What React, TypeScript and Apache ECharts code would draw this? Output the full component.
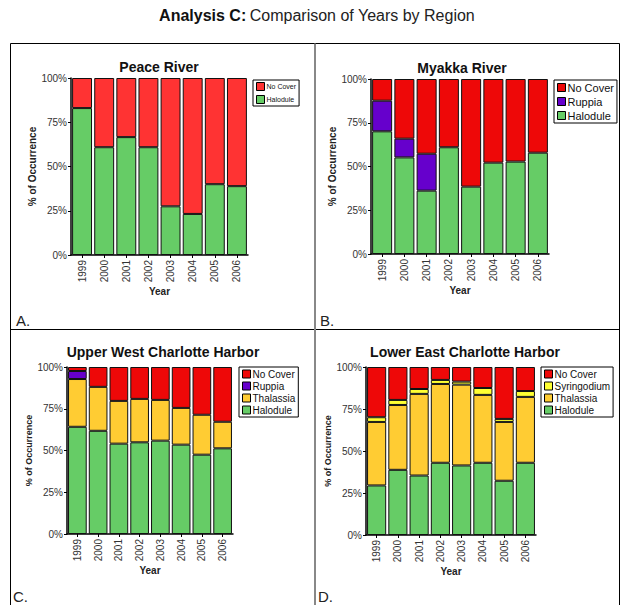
import React, { useEffect, useRef } from "react";
import * as echarts from "echarts";

const years = ["1999", "2000", "2001", "2002", "2003", "2004", "2005", "2006"];
const yTicks = [0, 25, 50, 75, 100];

// A. Peace River
const peaceHalodule = [83.0, 60.9, 66.6, 60.9, 27.5, 23.2, 40.0, 38.9];
const peaceNoCover = [17.0, 39.1, 33.4, 39.1, 72.5, 76.8, 60.0, 61.1];

// B. Myakka River
const myakkaHalodule = [70.1, 55.2, 36.2, 61.0, 38.5, 52.2, 52.8, 57.9];
const myakkaRuppia = [17.5, 10.7, 21.1, null, null, null, null, null];
const myakkaNoCover = [12.4, 34.1, 42.7, 39.0, 61.5, 47.8, 47.2, 42.1];

// C. Upper West Charlotte Harbor
const uwchHalodule = [64.2, 61.8, 54.1, 54.9, 55.9, 53.5, 47.5, 51.3];
const uwchThalassia = [28.6, 26.3, 25.6, 26.0, 24.4, 22.0, 23.9, 15.9];
const uwchRuppia = [4.8, null, null, null, null, null, null, null];
const uwchNoCover = [2.4, 11.9, 20.3, 19.1, 19.7, 24.5, 28.6, 32.8];

// D. Lower East Charlotte Harbor
const lechHalodule = [29.5, 38.8, 35.4, 43.0, 41.4, 43.0, 32.3, 43.0];
const lechThalassia = [37.8, 38.6, 48.6, 46.9, 48.1, 40.4, 35.0, 39.2];
const lechSyringodium = [2.8, 3.0, 2.9, 2.4, 1.8, 4.1, 1.8, 3.5];
const lechNoCover = [29.9, 19.6, 13.1, 7.7, 8.7, 12.5, 30.9, 14.3];

const C_GREEN = "#66CC66";
const C_RED_A = "#FF3333";
const C_RED = "#EE0808";
const C_PURPLE = "#6600CC";
const C_GOLD = "#FFCC33";
const C_YELLOW = "#FFFF33";

const FONT = "'Liberation Sans', Arial, sans-serif";

type Panel = {
  title: string;
  letter: string;
  grid: { left: number; top: number; width: number; height: number };
  titlePos: [number, number];
  letterPos: [number, number];
  legendPos: { left: number; top: number };
  legendFont: number;
  legendGap: number;
  axisNameSize: number;
  series: { name: string; data: (number | null)[]; color: string }[];
};

const panels: Panel[] = [
  {
    title: "Peace River",
    letter: "A.",
    grid: { left: 71, top: 78, width: 177, height: 177 },
    titlePos: [159, 67],
    letterPos: [16, 320],
    legendPos: { left: 253, top: 80 },
    legendFont: 7,
    legendGap: 4,
    axisNameSize: 10,
    series: [
      { name: "Halodule", data: peaceHalodule, color: C_GREEN },
      { name: "No Cover", data: peaceNoCover, color: C_RED_A },
    ],
  },
  {
    title: "Myakka River",
    letter: "B.",
    grid: { left: 371, top: 79, width: 178, height: 175 },
    titlePos: [462, 68],
    letterPos: [320, 320],
    legendPos: { left: 554, top: 80 },
    legendFont: 11,
    legendGap: 3,
    axisNameSize: 10,
    series: [
      { name: "Halodule", data: myakkaHalodule, color: C_GREEN },
      { name: "Ruppia", data: myakkaRuppia, color: C_PURPLE },
      { name: "No Cover", data: myakkaNoCover, color: C_RED },
    ],
  },
  {
    title: "Upper West Charlotte Harbor",
    letter: "C.",
    grid: { left: 67, top: 367, width: 166, height: 167 },
    titlePos: [163, 352],
    letterPos: [13, 596],
    legendPos: { left: 239, top: 367 },
    legendFont: 10,
    legendGap: 2,
    axisNameSize: 9,
    series: [
      { name: "Halodule", data: uwchHalodule, color: C_GREEN },
      { name: "Thalassia", data: uwchThalassia, color: C_GOLD },
      { name: "Ruppia", data: uwchRuppia, color: C_PURPLE },
      { name: "No Cover", data: uwchNoCover, color: C_RED },
    ],
  },
  {
    title: "Lower East Charlotte Harbor",
    letter: "D.",
    grid: { left: 366, top: 367, width: 170, height: 168 },
    titlePos: [465, 352],
    letterPos: [318, 596],
    legendPos: { left: 541, top: 367 },
    legendFont: 10,
    legendGap: 2,
    axisNameSize: 9,
    series: [
      { name: "Halodule", data: lechHalodule, color: C_GREEN },
      { name: "Thalassia", data: lechThalassia, color: C_GOLD },
      { name: "Syringodium", data: lechSyringodium, color: C_YELLOW },
      { name: "No Cover", data: lechNoCover, color: C_RED },
    ],
  },
];

function buildOption() {
  const grid: any[] = [];
  const xAxis: any[] = [];
  const yAxis: any[] = [];
  const series: any[] = [];
  const legend: any[] = [];
  const graphic: any[] = [];

  panels.forEach((p, i) => {
    grid.push({ ...p.grid, containLabel: false });
    xAxis.push({
      type: "category",
      gridIndex: i,
      data: years,
      name: "Year",
      nameLocation: "middle",
      nameGap: 30,
      nameTextStyle: { fontFamily: FONT, fontWeight: "bold", fontSize: 10, color: "#222" },
      axisLine: { show: true, lineStyle: { color: "#000", width: 1.5 } },
      axisTick: { show: true, alignWithLabel: true, length: 3, lineStyle: { color: "#000" } },
      axisLabel: { rotate: 90, fontSize: 10, fontFamily: FONT, color: "#333", margin: 5 },
      splitLine: { show: false },
    });
    yAxis.push({
      type: "value",
      gridIndex: i,
      min: 0,
      max: 100,
      interval: 25,
      name: "% of Occurrence",
      nameLocation: "middle",
      nameGap: 30,
      nameTextStyle: { fontFamily: FONT, fontWeight: "bold", fontSize: p.axisNameSize, color: "#222" },
      axisLine: { show: true, lineStyle: { color: "#000", width: 1.5 } },
      axisTick: { show: true, length: 3, lineStyle: { color: "#000" } },
      axisLabel: {
        fontSize: 10,
        fontFamily: FONT,
        color: "#333",
        margin: 4,
        formatter: (v: number) => (yTicks.includes(v) ? v + "%" : ""),
      },
      splitLine: { show: false },
    });
    p.series.forEach((s) => {
      series.push({
        type: "bar",
        name: s.name,
        xAxisIndex: i,
        yAxisIndex: i,
        stack: "panel" + i,
        data: s.data,
        barCategoryGap: "10%",
        itemStyle: { color: s.color, borderColor: "#111", borderWidth: 1 },
        emphasis: { disabled: true },
      });
    });
    legend.push({
      orient: "vertical",
      left: p.legendPos.left,
      top: p.legendPos.top,
      backgroundColor: "#fff",
      borderColor: "#000",
      borderWidth: 1,
      padding: [2, 3, 2, 3],
      itemWidth: 8,
      itemHeight: 8,
      itemGap: p.legendGap,
      selectedMode: false,
      icon: "rect",
      textStyle: { fontFamily: FONT, fontSize: p.legendFont, color: "#111", padding: [0, 0, 0, -3] },
      data: p.series
        .slice()
        .reverse()
        .map((s) => ({
          name: s.name,
          itemStyle: { color: s.color, borderColor: "#000", borderWidth: 1 },
        })),
    });
    graphic.push({
      type: "text",
      x: p.titlePos[0],
      y: p.titlePos[1],
      style: {
        text: p.title,
        fontFamily: FONT,
        fontWeight: "bold",
        fontSize: 14,
        fill: "#111",
        align: "center",
        verticalAlign: "middle",
      },
    });
    graphic.push({
      type: "text",
      x: p.letterPos[0],
      y: p.letterPos[1],
      style: {
        text: p.letter,
        fontFamily: FONT,
        fontSize: 15,
        fill: "#222",
        align: "left",
        verticalAlign: "middle",
      },
    });
  });

  // frame
  const lineStyle = { stroke: "#000", lineWidth: 1 };
  graphic.push(
    { type: "line", shape: { x1: 10.5, y1: 43.5, x2: 619.5, y2: 43.5 }, style: lineStyle },
    { type: "line", shape: { x1: 10.5, y1: 43.5, x2: 10.5, y2: 605 }, style: lineStyle },
    { type: "line", shape: { x1: 619.5, y1: 43.5, x2: 619.5, y2: 605 }, style: lineStyle },
    { type: "line", shape: { x1: 10.5, y1: 329.5, x2: 619.5, y2: 329.5 }, style: lineStyle },
    { type: "line", shape: { x1: 315, y1: 43.5, x2: 315, y2: 605 }, style: { stroke: "#888", lineWidth: 2 } }
  );

  // main title
  graphic.push({
    type: "text",
    x: 317,
    y: 15,
    style: {
      text: "{b|Analysis C:} {r|Comparison of Years by Region}",
      align: "center",
      verticalAlign: "middle",
      rich: {
        b: { fontFamily: FONT, fontWeight: "bold", fontSize: 16, fill: "#111" },
        r: { fontFamily: FONT, fontSize: 16, fill: "#222" },
      },
    },
  });

  return {
    animation: false,
    backgroundColor: "#fff",
    grid,
    xAxis,
    yAxis,
    series,
    legend,
    graphic,
  };
}

export default function App() {
  const ref = useRef<HTMLDivElement>(null);
  useEffect(() => {
    if (!ref.current) return;
    const chart = echarts.init(ref.current, undefined, { renderer: "svg" });
    chart.setOption(buildOption() as any);
    return () => chart.dispose();
  }, []);
  return (
    <div
      ref={ref}
      style={{ position: "absolute", left: 0, top: 0, width: 621, height: 605, background: "#fff" }}
    />
  );
}
